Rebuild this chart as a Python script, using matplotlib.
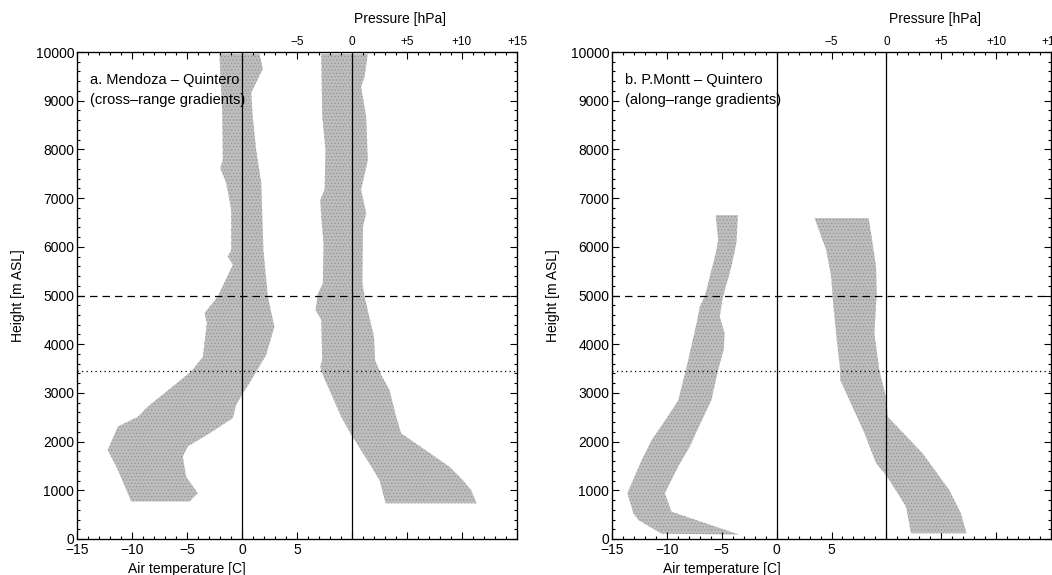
import numpy as np
import matplotlib.pyplot as plt
from matplotlib.ticker import MultipleLocator

plt.rcParams['font.family'] = ['Liberation Sans', 'DejaVu Sans']
plt.rcParams['font.size'] = 10
plt.rcParams['hatch.linewidth'] = 0.4

# ---- panel a: Mendoza - Quintero (cross-range) ----
# temperature band [C], left edge (top -> bottom)
a_temp_left_z = [9960, 8750, 7780, 7620, 7310, 6760, 5930, 5800, 5630, 4980, 4640, 4440, 3740, 3440, 2720, 2510, 2310, 1830, 1420, 770]
a_temp_left_t = [-2.05, -1.8, -1.75, -1.98, -1.44, -0.98, -0.98, -1.29, -0.84, -2.2, -3.41, -3.2, -3.56, -4.62, -8.56, -9.47, -11.29, -12.2, -11.29, -10.07]
# right edge (top -> bottom)
a_temp_right_z = [9960, 9660, 9160, 8670, 7990, 7310, 5930, 4980, 4360, 3780, 3200, 2990, 2750, 2480, 2170, 1900, 1690, 1280, 940, 770]
a_temp_right_t = [1.59, 1.89, 0.84, 0.98, 1.29, 1.75, 1.95, 2.35, 2.95, 2.2, 0.68, 0.07, -0.53, -0.84, -2.95, -4.93, -5.38, -5.07, -4.02, -4.77]
# pressure band [hPa]
a_pres_left_z = [9960, 8670, 7990, 7170, 6960, 6620, 6070, 5250, 5045, 4700, 4500, 3675, 3540, 3330, 2510, 2100, 1965, 1210, 733]
a_pres_left_p = [-2.8, -2.71, -2.41, -2.5, -2.89, -2.8, -2.59, -2.65, -3.1, -3.32, -2.8, -2.71, -2.89, -2.59, -0.98, 0.02, 0.44, 2.5, 3.05]
a_pres_right_z = [9960, 9490, 9290, 8670, 7780, 7170, 6690, 6410, 5250, 4980, 4155, 3675, 3370, 3060, 2510, 2170, 1485, 1210, 1006, 733]
a_pres_right_p = [1.44, 1.14, 0.83, 1.29, 1.44, 0.83, 1.29, 1.0, 0.95, 1.14, 2.0, 2.1, 2.65, 3.41, 4.02, 4.47, 8.86, 10.07, 10.83, 11.35]

# ---- panel b: P.Montt - Quintero (along-range) ----
b_temp_left_z = [6650, 6140, 5870, 5390, 4980, 4770, 4430, 3470, 2850, 2580, 2030, 1620, 940, 530, 390, 110, 90]
b_temp_left_t = [-5.55, -5.33, -5.55, -6.09, -6.55, -7.0, -7.3, -8.27, -8.97, -9.73, -11.39, -12.3, -13.6, -13.06, -12.6, -10.5, -3.4]
b_temp_right_z = [6650, 6070, 5590, 4980, 4565, 4220, 3880, 3470, 2850, 2170, 1900, 1485, 940, 560, 90]
b_temp_right_t = [-3.52, -3.67, -4.12, -4.88, -5.18, -4.73, -4.82, -5.33, -5.94, -7.36, -7.9, -8.97, -10.18, -9.57, -3.4]
b_pres_left_z = [6590, 5930, 5390, 4910, 4090, 3470, 3265, 2850, 2170, 1554, 1350, 1210, 663, 117]
b_pres_left_p = [-6.55, -5.48, -5.03, -4.88, -4.52, -4.21, -4.21, -3.36, -2.0, -0.94, -0.18, 0.27, 1.79, 2.24]
b_pres_right_z = [6590, 6140, 5590, 5045, 4220, 3470, 2850, 2510, 2440, 1760, 1006, 528, 117]
b_pres_right_p = [-1.61, -1.3, -0.94, -0.88, -1.09, -0.64, 0.03, 0.12, 0.42, 3.3, 5.73, 6.79, 7.3]

dash_height = 5000
dot_height = 3440

panels = [
    ("a. Mendoza \u2013 Quintero", "(cross\u2013range gradients)",
     (a_temp_left_z, a_temp_left_t, a_temp_right_z, a_temp_right_t),
     (a_pres_left_z, a_pres_left_p, a_pres_right_z, a_pres_right_p),
     [77 / 1052, 36 / 575, 440 / 1052, 487 / 575]),
    ("b. P.Montt \u2013 Quintero", "(along\u2013range gradients)",
     (b_temp_left_z, b_temp_left_t, b_temp_right_z, b_temp_right_t),
     (b_pres_left_z, b_pres_left_p, b_pres_right_z, b_pres_right_p),
     [612 / 1052, 36 / 575, 439 / 1052, 487 / 575]),
]

band_face = '#bdbdbd'
band_dots = '#8c8c8c'

fig = plt.figure(figsize=(10.52, 5.75), dpi=100)

for title1, title2, tband, pband, pos in panels:
    ax = fig.add_axes(pos)
    ax.set_xlim(-15, 25)
    ax.set_ylim(0, 10000)
    axp = ax.twiny()
    axp.set_xlim(-25, 15)

    # stippled grey bands (halftone look)
    zl, tl, zr, tr = tband
    ax.fill(np.concatenate([tl, tr[::-1]]), np.concatenate([zl, zr[::-1]]),
            facecolor=band_face, edgecolor=band_dots, hatch='.....', lw=0, zorder=1)
    zl, pl, zr, pr = pband
    axp.fill(np.concatenate([pl, pr[::-1]]), np.concatenate([zl, zr[::-1]]),
             facecolor=band_face, edgecolor=band_dots, hatch='.....', lw=0, zorder=1)

    ax.axvline(0, color='k', lw=0.9, zorder=3)
    axp.axvline(0, color='k', lw=0.9, zorder=3)
    axp.axhline(dash_height, color='k', lw=0.9, ls=(0, (6, 4)), zorder=3)
    axp.axhline(dot_height, color='k', lw=0.9, ls=(0, (1, 2.6)), zorder=3)

    # bottom / left axes
    ax.set_xticks([-15, -10, -5, 0, 5, 10, 15, 20, 25],
                  labels=['\u221215', '\u221210', '\u22125', '0', '5', '', '', '', ''])
    ax.xaxis.set_minor_locator(MultipleLocator(1))
    ax.yaxis.set_major_locator(MultipleLocator(1000))
    ax.yaxis.set_minor_locator(MultipleLocator(200))
    ax.tick_params(which='both', direction='in', top=False, right=True, labelsize=10, width=0.8)
    ax.tick_params(which='major', length=5)
    ax.tick_params(axis='x', which='major', pad=3)
    ax.tick_params(axis='y', which='major', pad=2)
    ax.tick_params(which='minor', length=2.5)

    # top pressure axis
    axp.set_xticks([-25, -20, -15, -10, -5, 0, 5, 10, 15],
                   labels=['', '', '', '', '\u22125', '0', '+5', '+10', '+15'])
    axp.xaxis.set_minor_locator(MultipleLocator(1))
    axp.tick_params(which='both', direction='in', labelsize=8.5, width=0.8)
    axp.tick_params(which='major', length=5, pad=3)
    axp.tick_params(which='minor', length=2.5)

    for sp in ax.spines.values():
        sp.set_linewidth(0.9)

    ax.text(0.03, 0.9435, title1, transform=ax.transAxes, va='center', ha='left', fontsize=10.5, zorder=5)
    ax.text(0.03, 0.901, title2, transform=ax.transAxes, va='center', ha='left', fontsize=10.5, zorder=5)
    ax.text(-5, -0.062, 'Air temperature [C]', transform=ax.get_xaxis_transform(),
            ha='center', va='center', fontsize=10)
    ax.text(14.4, 1.068, 'Pressure [hPa]', transform=ax.get_xaxis_transform(),
            ha='center', va='center', fontsize=10)
    ax.text(-0.134, 0.5, 'Height [m ASL]', transform=ax.transAxes, rotation=90,
            ha='center', va='center', fontsize=10)

fig.savefig('out.png', dpi=100)
